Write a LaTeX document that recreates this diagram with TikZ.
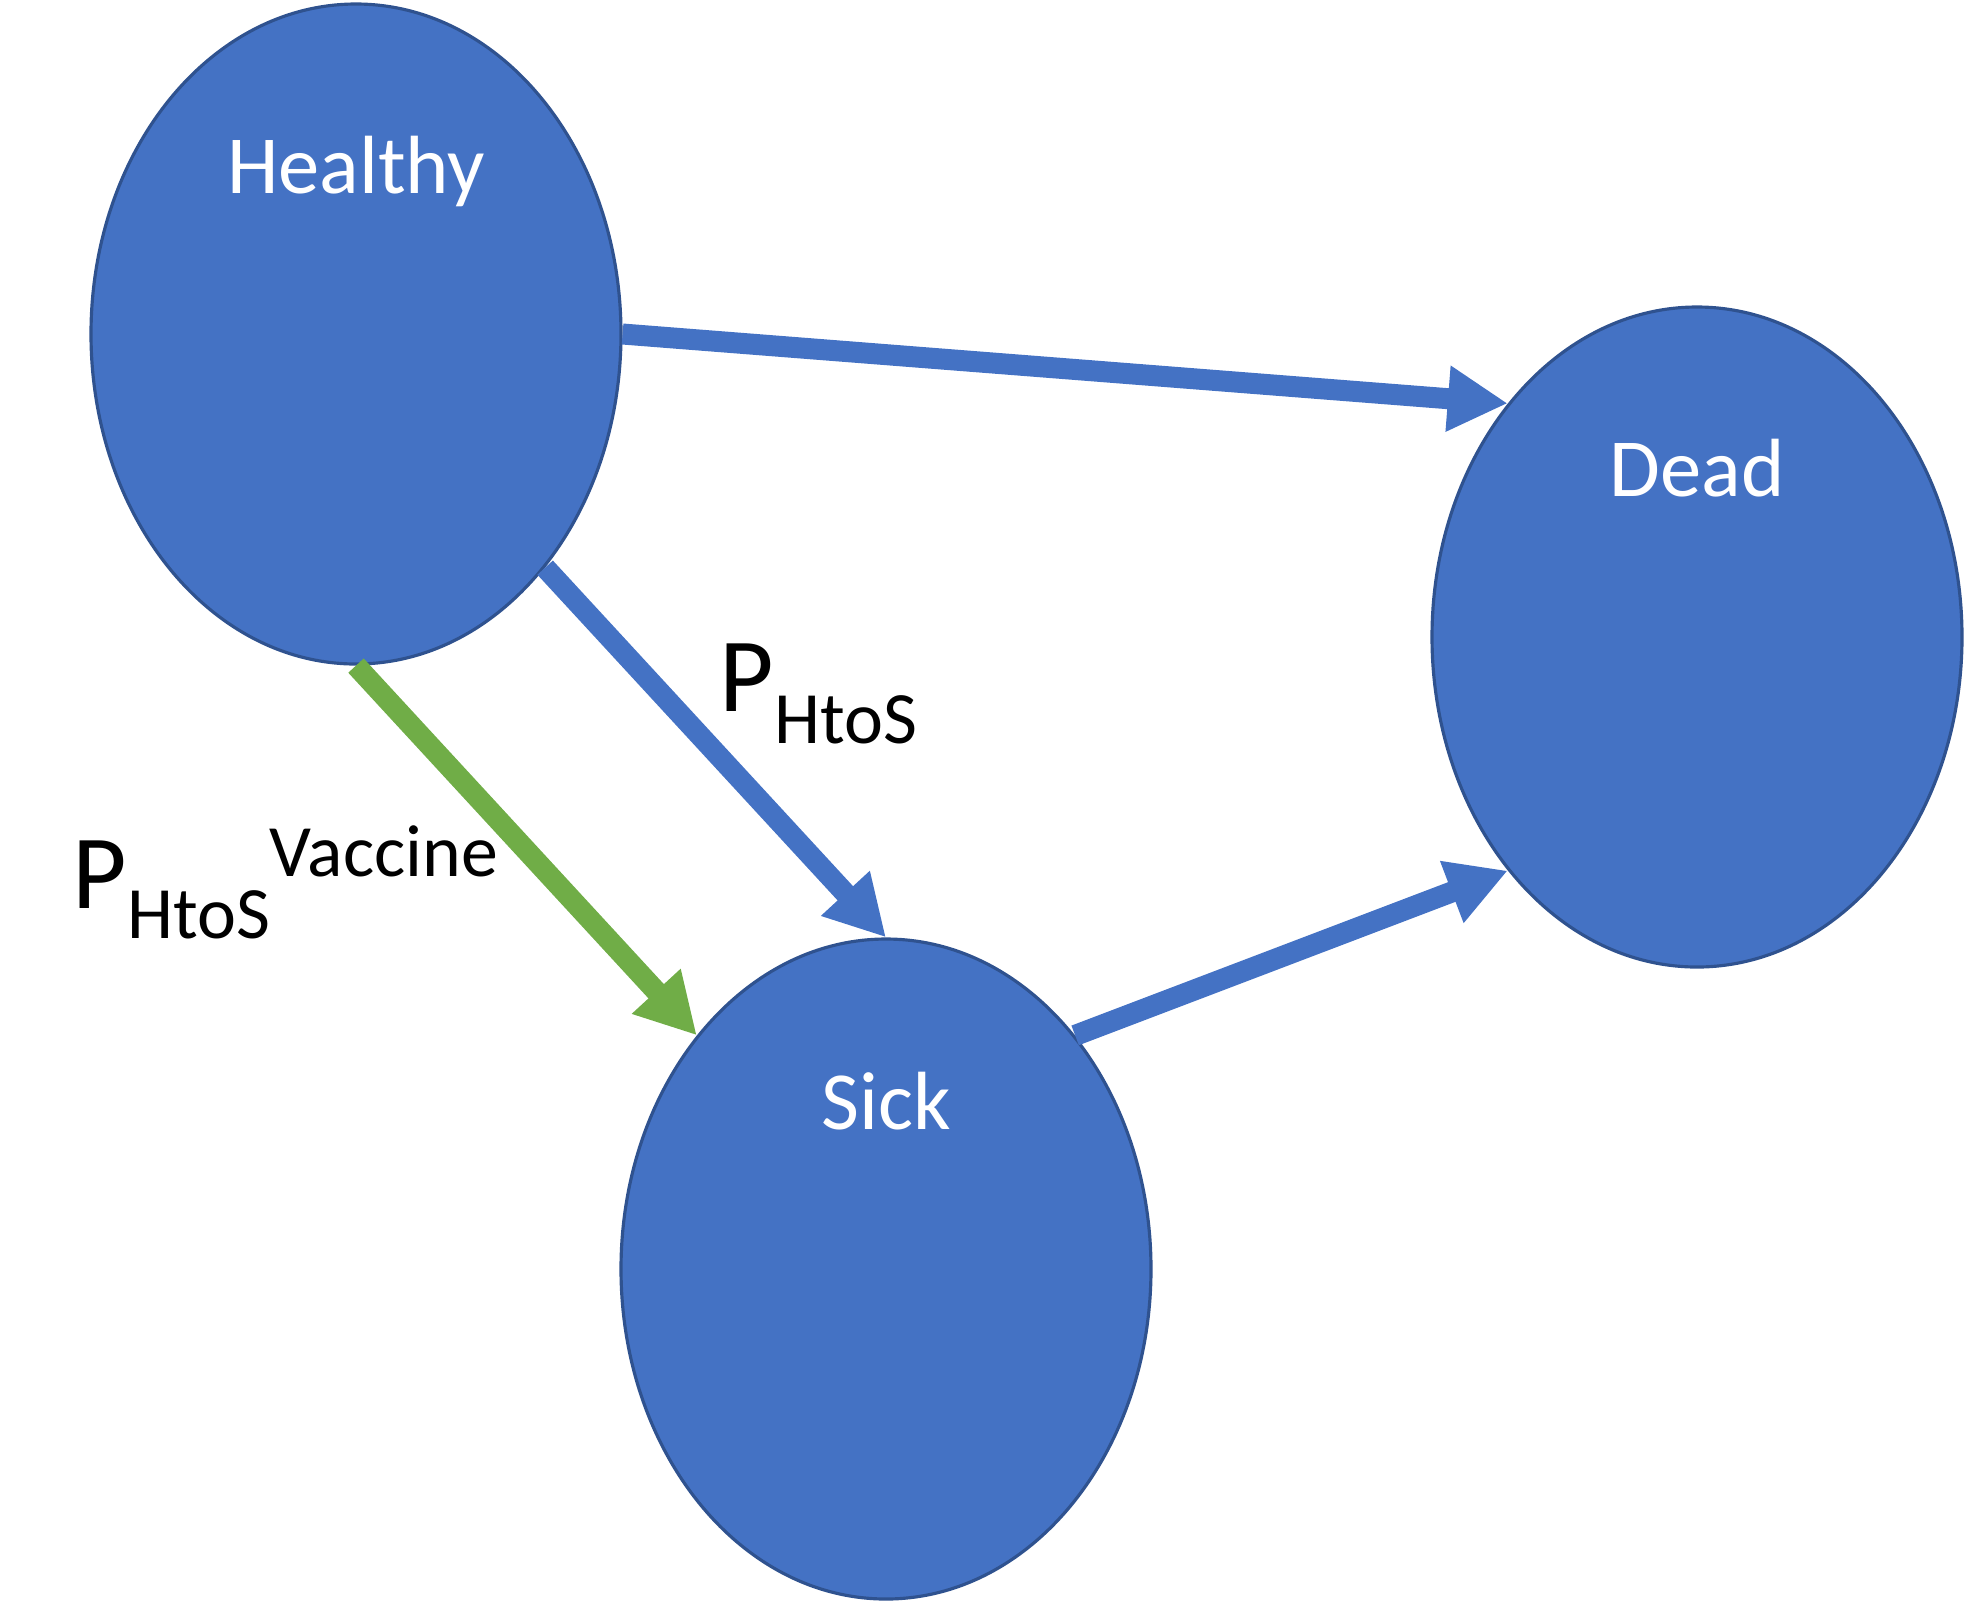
\documentclass[tikz,border=0pt]{standalone}
\usepackage{fontspec}
\setmainfont{Carlito}
\usetikzlibrary{arrows.meta,shapes.geometric}

\definecolor{stateblue}{HTML}{4472C4}
\definecolor{stateedge}{HTML}{2F528F}
\definecolor{vacgreen}{HTML}{70AD47}

\begin{document}
\begin{tikzpicture}[
  state/.style={ellipse,draw=stateedge,line width=0.9pt,fill=stateblue,
    minimum width=5.3cm,minimum height=6.6cm,inner sep=0pt},
  statetext/.style={text=white,anchor=base,inner sep=0pt,
    font=\fontsize{23.5}{28}\selectfont},
  flow/.style={line width=0.21cm,-{Triangle[length=0.6cm,width=0.62cm]}},
  prob/.style={anchor=base west,inner sep=0pt,
    font=\fontsize{21}{25}\selectfont}
]

\useasboundingbox (0,0) rectangle (19.66,-16.04);

\node[state] (healthy) at (3.56,-3.34) {};
\node[state] (dead) at (16.97,-6.37) {};
\node[state] (sick) at (8.86,-12.69) {};

\node[statetext] (healthylbl) at (3.56,-1.93) {Healthy};
\node[statetext] (deadlbl) at (16.97,-4.96) {Dead};
\node[statetext] (sicklbl) at (8.86,-11.29) {Sick};

\draw[flow,stateblue] (healthy.east) -- (dead.129);
\draw[flow,stateblue] (healthy.-51) -- (sick.north);
\draw[flow,vacgreen] (healthy.south) -- (sick.129);
\draw[flow,stateblue] (sick.51) -- (dead.-129);

\node[prob] (phtos) at (7.19,-7.11)
  {{\fontsize{30}{36}\selectfont P}\raisebox{-0.32cm}{HtoS}};
\node[prob] (phtosvac) at (0.72,-9.08)
  {{\fontsize{30}{36}\selectfont P}\raisebox{-0.30cm}{HtoS}\raisebox{0.32cm}{Vaccine}};

\end{tikzpicture}
\end{document}
